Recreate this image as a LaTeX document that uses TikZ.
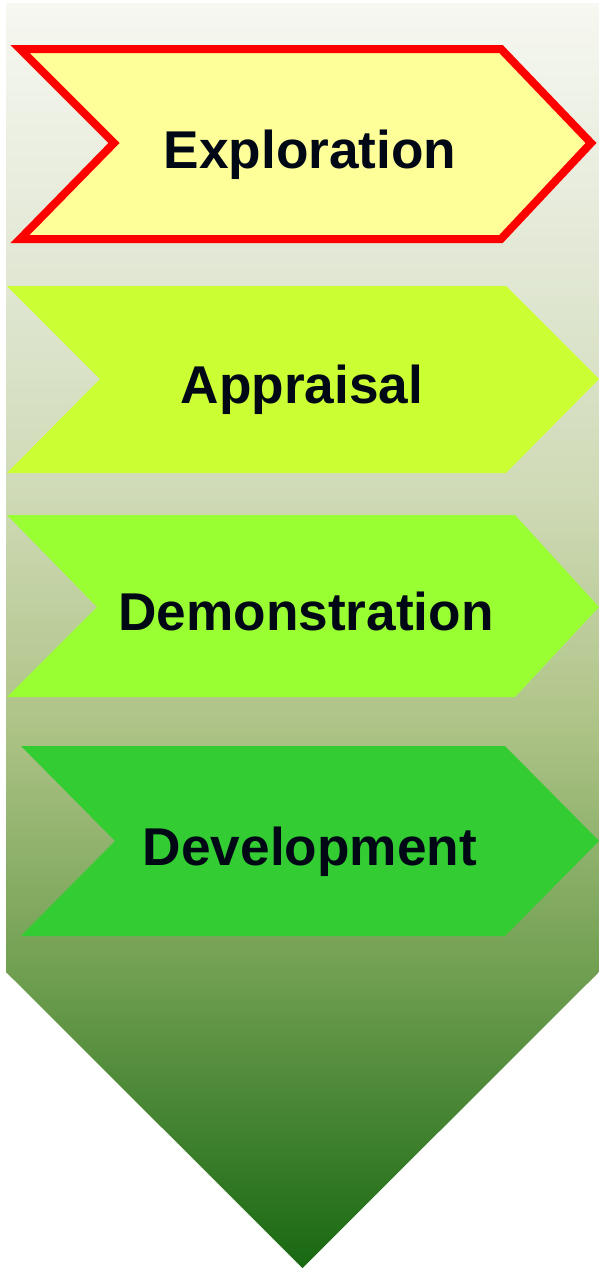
\documentclass[tikz,border=0pt]{standalone}
\usepackage{fontspec}
\setmainfont{Liberation Sans}
\usepackage{xcolor}
\usepackage{tikz}

\definecolor{bgA}{HTML}{F6F8F1}
\definecolor{bgB}{HTML}{E2E8D5}
\definecolor{bgC}{HTML}{CFDAB6}
\definecolor{bgD}{HTML}{AFC488}
\definecolor{bgE}{HTML}{72A052}
\definecolor{bgF}{HTML}{186812}
\definecolor{exploreYellow}{HTML}{FFFF99}
\definecolor{appraiseLime}{HTML}{CCFF33}
\definecolor{demoGreen}{HTML}{99FF33}
\definecolor{developGreen}{HTML}{33CC33}
\definecolor{labelInk}{HTML}{000816}

\pgfdeclareverticalshading{fieldshade}{100bp}{color(0bp)=(bgF); color(25bp)=(bgF); color(36.9bp)=(bgE); color(46.65bp)=(bgD); color(55.5bp)=(bgC); color(64.85bp)=(bgB); color(75bp)=(bgA); color(100bp)=(bgA)}

\tikzset{
	x=1pt, y=-1pt,
	chevron/.style={draw=none}, % plain filled stage arrows
	current/.style={draw=red, line width=8pt, line join=miter}, % the highlighted stage
	stage/.style={anchor=base, text=labelInk, font=\bfseries\fontsize{53.2}{60}\selectfont},
}

\begin{document}
\begin{tikzpicture}
        \useasboundingbox (0,0) rectangle (599,1272);
        \fill[white] (0,0) rectangle (599,1272);

        % big background arrow
        \path[shading=fieldshade] (6,3) -- (599,3) -- (599,972) -- (302.5,1268) -- (6,972) -- cycle;

        \filldraw[current, fill=exploreYellow] (20,49) -- (501,49) -- (591,143) -- (501,239) -- (20,239) -- (114,143) -- cycle;
        \fill[chevron, appraiseLime] (7,286) -- (506,286) -- (599,379) -- (506,473) -- (7,473) -- (100,379) -- cycle;
        \fill[chevron, demoGreen] (7,515) -- (515,515) -- (599,607) -- (515,697) -- (7,697) -- (97,607) -- cycle;
        \fill[chevron, developGreen] (21,746) -- (505,746) -- (599,841) -- (505,936) -- (21,936) -- (115,841) -- cycle;

        \node[stage] (explore) at (310,168) {Exploration};
        \node[stage] (appraise) at (302,403) {Appraisal};
        \node[stage] (demo) at (306,630) {Demonstration};
        \node[stage] (develop) at (310,865) {Development};
\end{tikzpicture}
\end{document}
